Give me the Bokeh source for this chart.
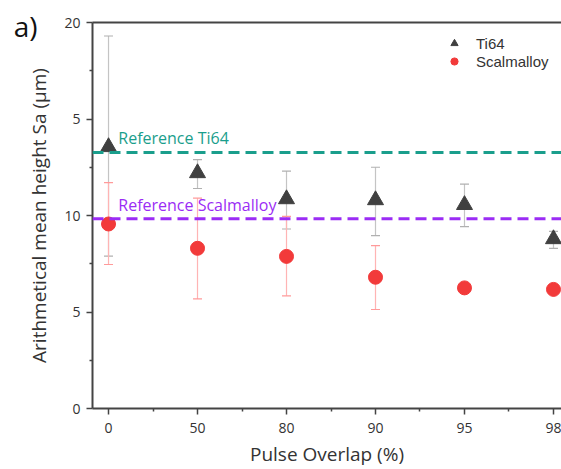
from bokeh.plotting import figure
from bokeh.models import (ColumnDataSource, Whisker, TeeHead, FixedTicker, Range1d,
                          Span, Label, Legend, LegendItem, LinearAxis)
from bokeh.embed import file_html
from bokeh.resources import INLINE

# ---- data ----
overlap_labels = ["0", "50", "80", "90", "95", "98"]
ti64_mean = [13.55, 12.2, 10.85, 10.8, 10.55, 8.78]
ti64_upper = [19.3, 12.9, 12.3, 12.5, 11.63, 9.18]
ti64_lower = [7.9, 11.4, 9.3, 8.96, 9.42, 8.3]
scal_mean = [9.56, 8.3, 7.88, 6.8, 6.25, 6.17]
scal_upper = [11.7, 10.9, 9.95, 8.44, 6.25, 6.17]
scal_lower = [7.46, 5.68, 5.84, 5.13, 6.25, 6.17]
ref_ti64 = 13.27
ref_scal = 9.83
y_ticks = [0, 5, 10, 15, 20]
y_tick_labels = ["0", "5", "10", "5", "20"]
panel_tag = "a)"

FONT = "Open Sans"
xs = list(range(len(overlap_labels)))

p = figure(width=561, height=469, output_backend="svg", toolbar_location=None,
           x_range=Range1d(-0.18, 5.09), y_range=Range1d(0, 20),
           min_border_left=92, min_border_right=0, min_border_top=22, min_border_bottom=59)
p.background_fill_color = "white"
p.border_fill_color = "white"
p.outline_line_color = None
p.grid.visible = False

# top frame line
top = LinearAxis(ticker=FixedTicker(ticks=[]), major_tick_line_color=None,
                 minor_tick_line_color=None, axis_line_color="#444444",
                 axis_line_width=2)
p.add_layout(top, "above")

xax = p.below[0]
yax = p.left[0]
xax.ticker = FixedTicker(ticks=xs, minor_ticks=[i + 0.5 for i in xs[:-1]])
xax.major_label_overrides = {i: l for i, l in zip(xs, overlap_labels)}
yax.ticker = FixedTicker(ticks=y_ticks, minor_ticks=[2.5, 7.5, 12.5, 17.5])
yax.major_label_overrides = {t: l for t, l in zip(y_ticks, y_tick_labels)}
for ax in (xax, yax):
    ax.axis_line_color = "#444444"
    ax.axis_line_width = 2
    ax.major_tick_line_color = "#444444"
    ax.major_tick_line_width = 1.5
    ax.minor_tick_line_color = "#444444"
    ax.minor_tick_line_width = 1.5
    ax.major_tick_out = 6
    ax.major_tick_in = 0
    ax.minor_tick_out = 3
    ax.minor_tick_in = 0
    ax.major_label_text_font = FONT
    ax.major_label_text_font_size = "14px"
    ax.major_label_text_color = "#333333"
    ax.axis_label_text_font = FONT
    ax.axis_label_text_font_size = "19px"
    ax.axis_label_text_font_style = "normal"
    ax.axis_label_text_color = "#333333"
xax.axis_label = "Pulse Overlap (%)"
yax.axis_label = "Arithmetical mean height Sa (µm)"
xax.major_label_standoff = 8
xax.axis_label_standoff = 5
yax.major_label_standoff = 6
yax.axis_label_standoff = 9

# panel tag "a)" as the single label of an invisible outer left axis
tag_axis = LinearAxis(ticker=FixedTicker(ticks=[19.8]),
                      major_label_overrides={19.8: panel_tag},
                      axis_line_color=None, major_tick_line_color=None,
                      minor_tick_line_color=None, major_tick_out=0, major_tick_in=0,
                      minor_tick_out=0, minor_tick_in=0,
                      major_label_standoff=-14,
                      major_label_text_font=FONT, major_label_text_font_size="28px",
                      major_label_text_color="#111111")
p.add_layout(tag_axis, "left")

# reference lines
p.add_layout(Span(location=ref_ti64, dimension="width", line_color="#1a9e8c",
                  line_width=3, line_dash="11 6"))
p.add_layout(Span(location=ref_scal, dimension="width", line_color="#9b2cf5",
                  line_width=3, line_dash="11 6"))
p.add_layout(Label(x=0.11, y=ref_ti64, y_offset=3, text="Reference Ti64",
                   text_font=FONT, text_font_size="16px", text_color="#1a9e8c",
                   text_baseline="bottom"))
p.add_layout(Label(x=0.11, y=ref_scal, y_offset=3, text="Reference Scalmalloy",
                   text_font=FONT, text_font_size="16px", text_color="#9b2cf5",
                   text_baseline="bottom"))

# error bars
src_ti = ColumnDataSource(dict(x=xs, y=ti64_mean, up=ti64_upper, lo=ti64_lower))
src_sc = ColumnDataSource(dict(x=xs, y=scal_mean, up=scal_upper, lo=scal_lower))
p.add_layout(Whisker(base="x", upper="up", lower="lo", source=src_ti,
                     line_color="#c4c4c4", line_width=1.2,
                     upper_head=TeeHead(size=9, line_color="#b0b0b0", line_width=1.2),
                     lower_head=TeeHead(size=9, line_color="#b0b0b0", line_width=1.2)))
p.add_layout(Whisker(base="x", upper="up", lower="lo", source=src_sc,
                     line_color="#ffb4b4", line_width=1.2,
                     upper_head=TeeHead(size=9, line_color="#ff9a9a", line_width=1.2),
                     lower_head=TeeHead(size=9, line_color="#ff9a9a", line_width=1.2)))

r_ti = p.scatter("x", "y", source=src_ti, marker="triangle", size=16,
                 fill_color="#404040", line_color="#404040")
r_sc = p.scatter("x", "y", source=src_sc, marker="circle", size=14,
                 fill_color="#f23a3a", line_color="#f23a3a")

legend = Legend(items=[LegendItem(label="Ti64", renderers=[r_ti]),
                       LegendItem(label="Scalmalloy", renderers=[r_sc])],
                location=(352, 338))
legend.border_line_color = None
legend.background_fill_alpha = 0
legend.padding = 0
legend.margin = 0
legend.spacing = 0
legend.glyph_width = 20
legend.glyph_height = 18
legend.label_height = 18
legend.label_standoff = 12
legend.label_text_font = "Liberation Sans"
legend.label_text_font_size = "15px"
legend.label_text_color = "#333333"
p.add_layout(legend, "center")

open("out.html", "w").write(file_html(p, INLINE))
